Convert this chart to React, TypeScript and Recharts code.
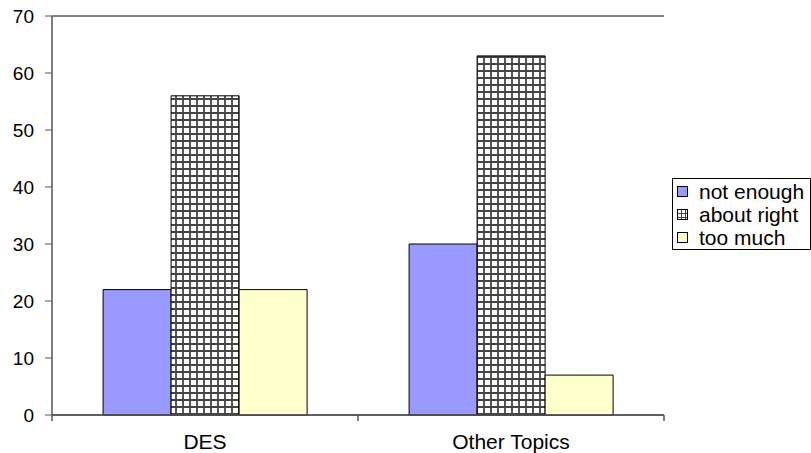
import React from "react";
import { BarChart, Bar, XAxis, YAxis, CartesianGrid, ReferenceLine } from "recharts";

const categories = ["DES", "Other Topics"];
const notEnough = [22, 30];
const aboutRight = [56, 63];
const tooMuch = [22, 7];
const yTicks = [0, 10, 20, 30, 40, 50, 60, 70];
const seriesNames = ["not enough", "about right", "too much"];

const data = categories.map((c, i) => ({
  name: c,
  notEnough: notEnough[i],
  aboutRight: aboutRight[i],
  tooMuch: tooMuch[i],
}));

const FONT = "'Liberation Sans', Arial, sans-serif";

const XTick = (props: any) => {
  const { x, y, payload, index } = props;
  const off = payload && payload.offset ? payload.offset : 153;
  return (
    <g>
      {index === 0 && (
        <line x1={x - off} x2={x - off} y1={y} y2={y + 6} stroke="#555" strokeWidth={1.5} />
      )}
      <line x1={x + off} x2={x + off} y1={y} y2={y + 6} stroke="#555" strokeWidth={1.5} />
      <text x={x} y={y + 26} textAnchor="middle" dominantBaseline="central" fontFamily={FONT} fontSize={21} fill="#000">
        {payload.value}
      </text>
    </g>
  );
};

const Legend = () => (
  <div
    style={{
      position: "absolute",
      left: 672,
      top: 178,
      width: 139,
      height: 72,
      border: "1px solid #000",
      boxSizing: "border-box",
      background: "#fff",
      fontFamily: FONT,
      fontSize: 21,
    }}
  >
    {seriesNames.map((n, i) => (
      <div key={n} style={{ position: "absolute", left: 4, top: 1 + i * 23, height: 23, display: "flex", alignItems: "center" }}>
        <svg width={12} height={12} style={{ marginRight: 10 }}>
          <rect x={0.5} y={0.5} width={10} height={10} fill={i === 0 ? "#9999FF" : i === 1 ? "url(#checkLegend)" : "#FFFFCC"} stroke="#000" strokeWidth={1} />
        </svg>
        <span style={{ whiteSpace: "nowrap", lineHeight: "23px" }}>{n}</span>
      </div>
    ))}
  </div>
);

export default function App() {
  return (
    <div style={{ position: "absolute", left: 0, top: 0, width: 811, height: 453, background: "#fff", overflow: "hidden" }}>
      <svg width={0} height={0} style={{ position: "absolute" }}>
        <defs>
          <pattern id="check" width={7} height={7} patternUnits="userSpaceOnUse">
            <rect width={7} height={7} fill="#fff" />
            <path d="M0 1 H7 M1 0 V7" stroke="#444" strokeWidth={1.8} />
          </pattern>
          <pattern id="checkLegend" width={4} height={4} patternUnits="userSpaceOnUse">
            <rect width={4} height={4} fill="#fff" />
            <path d="M0 0.5 H4 M0.5 0 V4" stroke="#444" strokeWidth={1} />
          </pattern>
        </defs>
      </svg>
      <BarChart
        width={811}
        height={453}
        data={data}
        margin={{ top: 16, right: 147, left: 0, bottom: 8 }}
        barCategoryGap="16.7%"
        barGap={0}
      >
        <CartesianGrid vertical={false} stroke="#000" strokeWidth={1} />
        <ReferenceLine y={70} yAxisId="left" stroke="#888" strokeWidth={1} />
        <XAxis
          dataKey="name"
          height={30}
          axisLine={{ stroke: "#555", strokeWidth: 1.5 }}
          tickLine={false}
          tickSize={0}
          tickMargin={0}
          tick={<XTick />}
          interval={0}
        />
        <YAxis
          yAxisId="left"
          width={52}
          domain={[0, 70]}
          ticks={yTicks}
          interval={0}
          axisLine={{ stroke: "#555", strokeWidth: 1.5 }}
          tickLine={{ stroke: "#555", strokeWidth: 1 }}
          tickSize={7}
          tickMargin={11}
          tick={{ fontFamily: FONT, fontSize: 19, fill: "#000" }}
        />
        <YAxis
          yAxisId="right"
          orientation="right"
          width={0}
          domain={[0, 70]}
          tick={false}
          tickLine={false}
          axisLine={{ stroke: "#999", strokeWidth: 1 }}
        />
        <Bar yAxisId="left" dataKey="notEnough" fill="#9999FF" stroke="#000" strokeWidth={1} isAnimationActive={false} />
        <Bar yAxisId="left" dataKey="aboutRight" fill="url(#check)" stroke="#000" strokeWidth={1} isAnimationActive={false} />
        <Bar yAxisId="left" dataKey="tooMuch" fill="#FFFFCC" stroke="#000" strokeWidth={1} isAnimationActive={false} />
      </BarChart>
      <Legend />
    </div>
  );
}
